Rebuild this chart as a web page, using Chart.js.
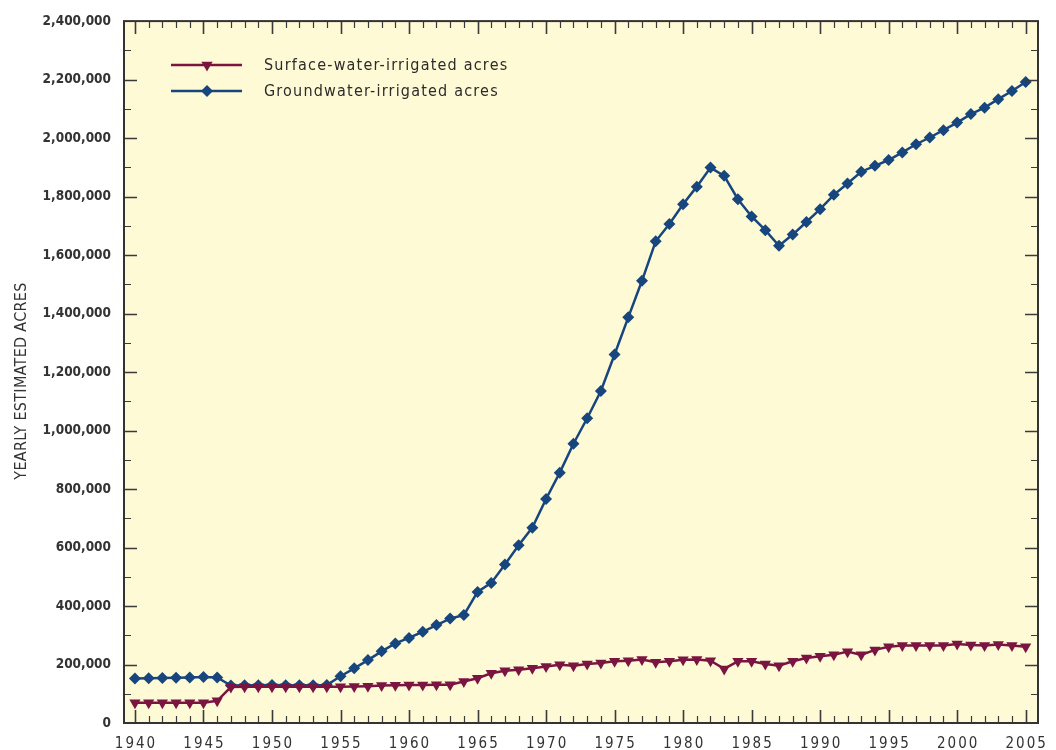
<!DOCTYPE html>
<html>
<head>
<meta charset="utf-8">
<script src="https://cdn.jsdelivr.net/npm/chart.js@4"></script>
<style>
  body { margin: 0; background: #fff; }
  canvas { display: block; }
</style>
</head>
<body>
<canvas id="acresChart" width="1056" height="750"></canvas>
<script>
// Data
const years = [1940, 1941, 1942, 1943, 1944, 1945, 1946, 1947, 1948, 1949,
  1950, 1951, 1952, 1953, 1954, 1955, 1956, 1957, 1958, 1959,
  1960, 1961, 1962, 1963, 1964, 1965, 1966, 1967, 1968, 1969,
  1970, 1971, 1972, 1973, 1974, 1975, 1976, 1977, 1978, 1979,
  1980, 1981, 1982, 1983, 1984, 1985, 1986, 1987, 1988, 1989,
  1990, 1991, 1992, 1993, 1994, 1995, 1996, 1997, 1998, 1999,
  2000, 2001, 2002, 2003, 2004, 2005];

const surfaceAcres = [69000, 69000, 69000, 69000, 69000, 69000, 76000, 123000, 124000, 124000,
  124000, 124000, 124000, 124000, 124000, 124000, 125000, 126000, 128000, 129000,
  130000, 130000, 131000, 131000, 142000, 153000, 170000, 179000, 182000, 187000,
  193000, 199000, 196000, 202000, 205000, 211000, 213000, 217000, 208000, 211000,
  216000, 217000, 213000, 185000, 211000, 211000, 202000, 196000, 211000, 222000,
  228000, 233000, 244000, 233000, 250000, 261000, 265000, 265000, 265000, 265000,
  270000, 267000, 265000, 268000, 265000, 261000];

const groundAcres = [152000, 153000, 154000, 155000, 156000, 157000, 156000, 128000, 129000, 129000,
  130000, 129000, 129000, 129000, 130000, 160000, 187000, 215000, 245000, 272000,
  291000, 312000, 335000, 357000, 369000, 448000, 479000, 542000, 608000, 668000,
  766000, 856000, 955000, 1042000, 1135000, 1260000, 1387000, 1512000, 1647000, 1706000,
  1774000, 1834000, 1899000, 1871000, 1791000, 1732000, 1685000, 1632000, 1670000, 1713000,
  1757000, 1806000, 1845000, 1885000, 1905000, 1925000, 1951000, 1979000, 2002000, 2027000,
  2053000, 2082000, 2104000, 2133000, 2161000, 2192000];

const xTickYears = [1940, 1945, 1950, 1955, 1960, 1965, 1970, 1975, 1980, 1985, 1990, 1995, 2000, 2005];
const seriesLabels = ['Surface-water-irrigated acres', 'Groundwater-irrigated acres'];
const yTitle = 'YEARLY ESTIMATED ACRES';

const RED = '#7a1541';
const BLUE = '#17467f';
const FONT = '"DejaVu Sans Condensed", "DejaVu Sans", sans-serif';

// Plot background, inward ticks, frame, x labels, y title and legend
const framePlugin = {
  id: 'frame',
  beforeDraw(chart) {
    const { ctx, chartArea: a } = chart;
    ctx.save();
    ctx.fillStyle = '#fffad6';
    ctx.fillRect(a.left, a.top, a.right - a.left, a.bottom - a.top);
    ctx.restore();
  },
  afterDraw(chart) {
    const { ctx, chartArea: a, scales } = chart;
    const x = scales.x, y = scales.y;
    ctx.save();
    ctx.strokeStyle = '#3a3a3a';

    // year ticks, top and bottom
    for (let yr = 1940; yr <= 2005; yr++) {
      const px = Math.round(x.getPixelForValue(yr)) + 0.5;
      const len = yr % 5 === 0 ? 13 : 7;
      ctx.lineWidth = yr % 5 === 0 ? 1.6 : 1.2;
      ctx.beginPath();
      ctx.moveTo(px, a.bottom); ctx.lineTo(px, a.bottom - len);
      ctx.moveTo(px, a.top); ctx.lineTo(px, a.top + len);
      ctx.stroke();
    }
    // acre ticks, left and right
    for (let v = 100000; v < 2400000; v += 100000) {
      const py = Math.round(y.getPixelForValue(v)) + 0.5;
      const major = v % 200000 === 0;
      const len = major ? 13 : 7;
      ctx.lineWidth = major ? 1.6 : 1.2;
      ctx.beginPath();
      ctx.moveTo(a.left, py); ctx.lineTo(a.left + len, py);
      ctx.moveTo(a.right, py); ctx.lineTo(a.right - len, py);
      ctx.stroke();
    }
    // frame
    ctx.lineWidth = 2;
    ctx.strokeStyle = '#333';
    ctx.strokeRect(a.left, a.top, a.right - a.left, a.bottom - a.top);

    // x labels
    ctx.fillStyle = '#333';
    ctx.font = '15px ' + FONT;
    ctx.letterSpacing = '2px';
    ctx.textAlign = 'center';
    ctx.textBaseline = 'middle';
    xTickYears.forEach(yr => {
      ctx.fillText(String(yr), x.getPixelForValue(yr) + 1, 744);
    });

    // y title
    ctx.save();
    ctx.translate(22, 381);
    ctx.rotate(-Math.PI / 2);
    ctx.font = '16px ' + FONT;
    ctx.letterSpacing = '0.3px';
    ctx.fillText(yTitle, 0, 0);
    ctx.restore();

    // legend
    const rows = [65, 91];
    chart.data.datasets.forEach((ds, i) => {
      const ly = rows[i];
      ctx.strokeStyle = ds.borderColor;
      ctx.lineWidth = 2.5;
      ctx.beginPath();
      ctx.moveTo(171, ly); ctx.lineTo(242, ly);
      ctx.stroke();
      ctx.fillStyle = ds.pointBackgroundColor;
      Chart.helpers.drawPoint(ctx, {
        pointStyle: ds.pointStyle,
        rotation: ds.pointRotation || 0,
        radius: ds.pointRadius,
        borderWidth: 0
      }, 207, ly);
      ctx.fillStyle = '#2b2b2b';
      ctx.font = '16px ' + FONT;
      ctx.letterSpacing = '1.2px';
      ctx.textAlign = 'left';
      ctx.fillText(ds.label, 264, ly + 1);
    });
    ctx.restore();
  }
};

const makePoints = vals => years.map((yr, i) => ({ x: yr, y: vals[i] }));

new Chart(document.getElementById('acresChart'), {
  type: 'line',
  data: {
    datasets: [
      {
        label: seriesLabels[0],
        data: makePoints(surfaceAcres),
        borderColor: RED,
        backgroundColor: RED,
        pointBackgroundColor: RED,
        pointBorderColor: RED,
        pointBorderWidth: 0,
        pointStyle: 'triangle',
        pointRotation: 180,
        pointRadius: 6.5,
        borderWidth: 2.5,
        tension: 0
      },
      {
        label: seriesLabels[1],
        data: makePoints(groundAcres),
        borderColor: BLUE,
        backgroundColor: BLUE,
        pointBackgroundColor: BLUE,
        pointBorderColor: BLUE,
        pointBorderWidth: 0,
        pointStyle: 'rectRot',
        pointRadius: 6,
        borderWidth: 2.5,
        tension: 0
      }
    ]
  },
  options: {
    responsive: false,
    animation: false,
    events: [],
    layout: { padding: { top: 20, right: 18, left: 0, bottom: 0 } },
    plugins: {
      legend: { display: false },
      tooltip: { enabled: false }
    },
    scales: {
      x: {
        type: 'linear',
        min: 1939.2,
        max: 2005.9,
        grid: { display: false, drawTicks: false },
        border: { display: false },
        ticks: { display: false },
        afterFit(scale) { scale.height = 27; }
      },
      y: {
        min: 0,
        max: 2400000,
        grid: { display: false, drawTicks: false },
        border: { display: false },
        ticks: {
          stepSize: 200000,
          padding: 13,
          color: '#333',
          font: { family: FONT, size: 13.5, weight: 'bold' },
          callback: v => v.toLocaleString('en-US')
        },
        afterFit(scale) { scale.width = 124; }
      }
    }
  },
  plugins: [framePlugin]
});
</script>
</body>
</html>
